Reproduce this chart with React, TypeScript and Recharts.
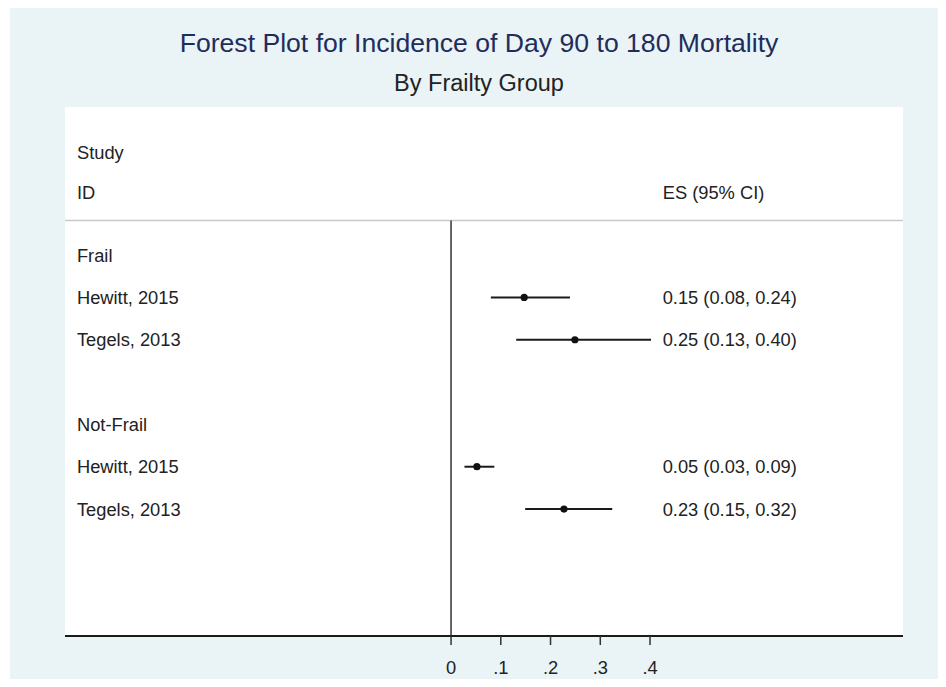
import React from "react";
import {
  ScatterChart,
  Scatter,
  XAxis,
  YAxis,
  ReferenceLine,
  CartesianGrid,
} from "recharts";

// ---- data ----
const groupNames = ["Frail", "Not-Frail"];
const groupRows = [9, 5];
const studyNames = ["Hewitt, 2015", "Tegels, 2013", "Hewitt, 2015", "Tegels, 2013"];
const studyRows = [8, 7, 4, 3];
const esValues = [0.147, 0.249, 0.052, 0.227];
const ciLow = [0.08, 0.131, 0.027, 0.149];
const ciHigh = [0.239, 0.402, 0.087, 0.324];
const xTicks = [0, 0.1, 0.2, 0.3, 0.4];
const headerLeft = ["Study", "ID"];
const headerRight = ["", "ES (95% CI)"];
const headerRows = [11.43, 10.47];
const titleText = "Forest Plot for Incidence of Day 90 to 180 Mortality";
const subtitleText = "By Frailty Group";

// ---- layout constants ----
const X_DOMAIN: [number, number] = [-0.776, 0.9085];
const Y_DOMAIN: [number, number] = [0, 12.5];
const SEP_Y = 9.82;
const LEFT_COL_X = -0.752;
const RIGHT_COL_X = 0.4255;
const FONT = "'Liberation Sans', Arial, Helvetica, sans-serif";
const TEXT_COLOR = "#222222";

const fmt = (v: number) => v.toFixed(2);

const leftTexts = [
  ...headerLeft.map((label, i) => ({ x: LEFT_COL_X, y: headerRows[i], label })),
  ...groupNames.map((label, i) => ({ x: LEFT_COL_X, y: groupRows[i], label })),
  ...studyNames.map((label, i) => ({ x: LEFT_COL_X, y: studyRows[i], label })),
];
const rightTexts = [
  ...headerRight.map((label, i) => ({ x: RIGHT_COL_X, y: headerRows[i], label })),
  ...esValues.map((v, i) => ({
    x: RIGHT_COL_X,
    y: studyRows[i],
    label: `${fmt(v)} (${fmt(ciLow[i])}, ${fmt(ciHigh[i])})`,
  })),
];
const points = esValues.map((v, i) => ({ x: v, y: studyRows[i] }));

const TextShape = (props: any) => {
  const { cx, cy, payload } = props;
  if (!payload || !payload.label) return <g />;
  return (
    <text
      x={cx}
      y={cy}
      dy="0.36em"
      textAnchor="start"
      fontFamily={FONT}
      fontSize={18.3}
      fill={TEXT_COLOR}
    >
      {payload.label}
    </text>
  );
};

const DotShape = (props: any) => {
  const { cx, cy } = props;
  return <circle cx={cx} cy={cy} r={3.6} fill="#111111" />;
};

const tickFmt = (v: number) => (v === 0 ? "0" : v.toFixed(1).replace(/^0/, ""));

export default function App() {
  return (
    <div
      style={{
        position: "relative",
        marginLeft: 2,
        marginBottom: -8,
        width: 936,
        height: 679,
        background: "#eaf3f6",
        fontFamily: FONT,
      }}
    >
      <div
        style={{
          position: "absolute",
          left: 0,
          width: 938,
          top: 21,
          textAlign: "center",
          fontSize: 26.6,
          lineHeight: "28px",
          color: "#1f2d5c",
        }}
      >
        {titleText}
      </div>
      <div
        style={{
          position: "absolute",
          left: 0,
          width: 938,
          top: 62,
          textAlign: "center",
          fontSize: 23.5,
          lineHeight: "26px",
          color: TEXT_COLOR,
        }}
      >
        {subtitleText}
      </div>
      <div style={{ position: "absolute", left: 0, top: 0 }}>
        <ScatterChart
          width={936}
          height={679}
          margin={{ top: 99, right: 43, left: 55, bottom: 11 }}
        >
          <CartesianGrid fill="#ffffff" horizontal={false} vertical={false} />
          <XAxis
            type="number"
            dataKey="x"
            domain={X_DOMAIN}
            allowDataOverflow
            ticks={xTicks}
            tickFormatter={tickFmt}
            height={40}
            tickSize={9}
            tickMargin={16}
            axisLine={{ stroke: "#1a1a1a", strokeWidth: 2 }}
            tickLine={{ stroke: "#333333", strokeWidth: 1.5 }}
            tick={{ fill: TEXT_COLOR, fontSize: 18.3, fontFamily: FONT }}
          />
          <YAxis type="number" dataKey="y" domain={Y_DOMAIN} allowDataOverflow hide />
          <ReferenceLine y={SEP_Y} stroke="#c8c8c8" strokeWidth={1.5} />
          <ReferenceLine
            segment={[
              { x: 0, y: SEP_Y },
              { x: 0, y: 0 },
            ]}
            stroke="#333333"
            strokeWidth={1.5}
          />
          {esValues.map((_, i) => (
            <ReferenceLine
              key={"ci" + i}
              segment={[
                { x: ciLow[i], y: studyRows[i] },
                { x: ciHigh[i], y: studyRows[i] },
              ]}
              stroke="#1a1a1a"
              strokeWidth={2}
            />
          ))}
          <Scatter data={leftTexts} shape={TextShape} isAnimationActive={false} />
          <Scatter data={rightTexts} shape={TextShape} isAnimationActive={false} />
          <Scatter data={points} shape={DotShape} isAnimationActive={false} />
        </ScatterChart>
      </div>
    </div>
  );
}
